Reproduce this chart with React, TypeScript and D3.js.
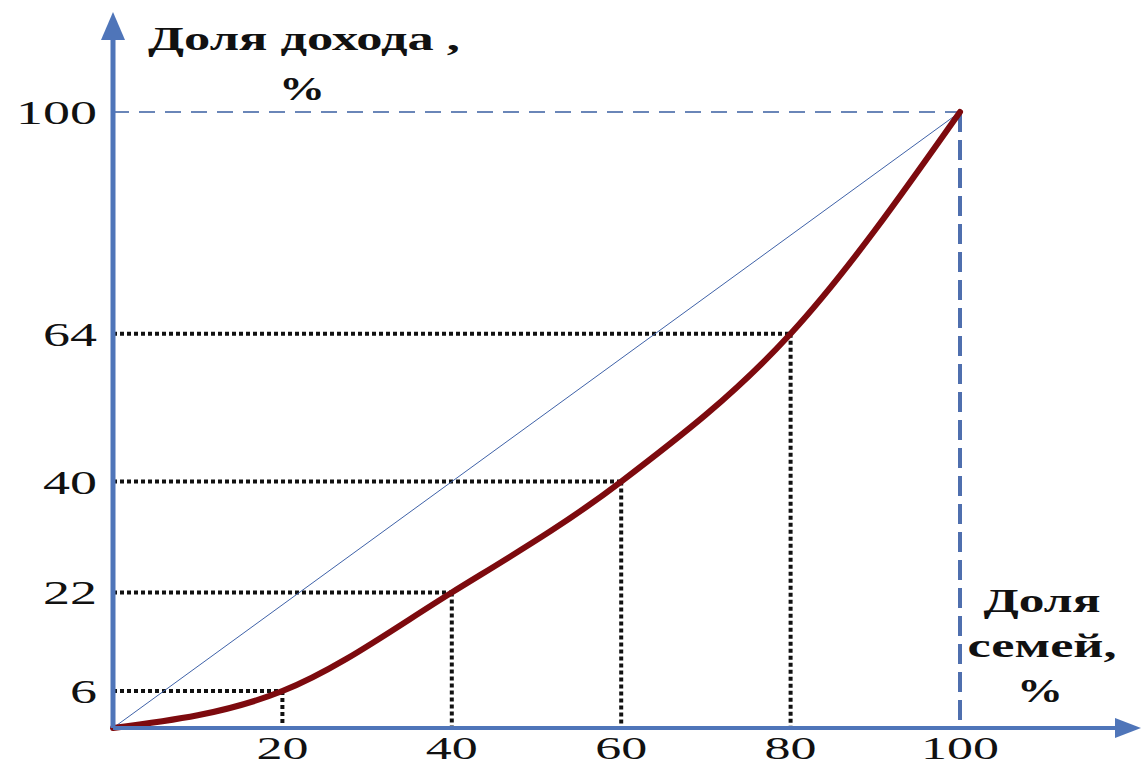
import React from "react";
import { scaleLinear, line, curveMonotoneX } from "d3";

// Доля семей (x) и доля дохода (y), накопленные проценты
const familyShare = [0, 20, 40, 60, 80, 100];
const incomeShare = [0, 6, 22, 40, 64, 100];
const xTicks = [20, 40, 60, 80, 100];
const yTicks = [6, 22, 40, 64, 100];
const yTitle = ["Доля дохода ,", "%"];
const xTitle = ["Доля", "семей,", "%"];

const W = 1143;
const H = 767;
const axisColor = "#4f75b9";
const font = "'Times New Roman', 'Liberation Serif', serif";

const App: React.FC = () => {
  const x = scaleLinear().domain([0, 100]).range([113, 960]);
  const y = scaleLinear().domain([0, 100]).range([728, 112]);

  const pts = familyShare.map((f, i) => ({ f, v: incomeShare[i] }));
  const curve = line<{ f: number; v: number }>()
    .x((d) => x(d.f))
    .y((d) => y(d.v))
    .curve(curveMonotoneX);

  const x0 = x(0);
  const y0 = y(0);

  return (
    <svg
      width={W}
      height={H}
      style={{ position: "absolute", left: 0, top: 0, background: "#fff" }}
    >
      {/* пунктир к точкам */}
      {pts
        .filter((d) => d.f > 0 && d.f < 100)
        .map((d, i) => (
          <g key={i} stroke="#111" strokeWidth={4} strokeDasharray="4,3" fill="none">
            <line x1={x0} x2={x(d.f)} y1={y(d.v)} y2={y(d.v)} />
            <line x1={x(d.f)} x2={x(d.f)} y1={y(d.v)} y2={y0} />
          </g>
        ))}

      {/* рамка до 100/100 */}
      <line
        x1={x0}
        x2={x(100)}
        y1={y(100)}
        y2={y(100)}
        stroke="#6a86b8"
        strokeWidth={2}
        strokeDasharray="16,10"
      />
      <line
        x1={x(100)}
        x2={x(100)}
        y1={y(100)}
        y2={y0}
        stroke="#4f6fae"
        strokeWidth={4}
        strokeDasharray="20,8"
      />

      {/* линия равенства */}
      <line
        x1={x(0)}
        y1={y(0)}
        x2={x(100)}
        y2={y(100)}
        stroke="#3f62a8"
        strokeWidth={1}
      />

      {/* кривая Лоренца */}
      <path d={curve(pts) ?? ""} fill="none" stroke="#7d0a0e" strokeWidth={6} strokeLinecap="round" />

      {/* оси */}
      <line x1={x0} x2={1118} y1={y0} y2={y0} stroke={axisColor} strokeWidth={4} />
      <path d={`M1141,${y0} L1115,${y0 - 10} L1115,${y0 + 10} Z`} fill={axisColor} />
      <line x1={x0} x2={x0} y1={y0} y2={36} stroke={axisColor} strokeWidth={5} />
      <path d={`M${x0},12 L${x0 - 12},40 L${x0 + 12},40 Z`} fill={axisColor} />

      {/* подписи осей */}
      <g fontFamily={font} fill="#111" fontSize={34}>
        {yTicks.map((t) => (
          <text
            key={t}
            x={97}
            y={y(t) + 12}
            textAnchor="end"
            textLength={String(t).length * 27}
            lengthAdjust="spacingAndGlyphs"
          >
            {t}
          </text>
        ))}
        {xTicks.map((t) => (
          <text
            key={t}
            x={x(t)}
            y={759}
            fontSize={32}
            textAnchor="middle"
            textLength={String(t).length * 26}
            lengthAdjust="spacingAndGlyphs"
          >
            {t}
          </text>
        ))}
      </g>

      <g fontFamily={font} fill="#111" fontWeight="bold" fontSize={34}>
        <text x={148} y={50} textLength={312} lengthAdjust="spacingAndGlyphs">
          {yTitle[0]}
        </text>
        <text x={302} y={100} textAnchor="middle" textLength={46} lengthAdjust="spacingAndGlyphs">
          {yTitle[1]}
        </text>
        <text x={1042} y={612} textAnchor="middle" textLength={117} lengthAdjust="spacingAndGlyphs">
          {xTitle[0]}
        </text>
        <text x={1042} y={657} textAnchor="middle" textLength={149} lengthAdjust="spacingAndGlyphs">
          {xTitle[1]}
        </text>
        <text x={1040} y={702} textAnchor="middle" textLength={46} lengthAdjust="spacingAndGlyphs">
          {xTitle[2]}
        </text>
      </g>
    </svg>
  );
};

export default App;
